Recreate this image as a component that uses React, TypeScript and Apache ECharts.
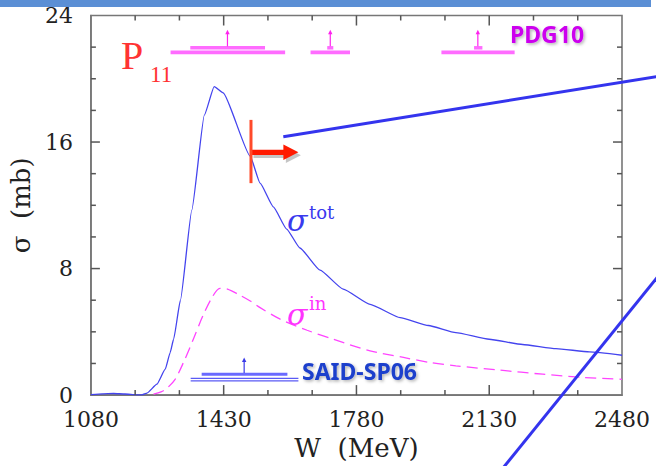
import React, { useEffect, useRef } from "react";
import * as echarts from "echarts";

// Total cross section sigma_tot (mb) versus W (MeV)
const totalW = [1080, 1110, 1140, 1170, 1200, 1215, 1228, 1254, 1276, 1289, 1298, 1316, 1346, 1379, 1405, 1429, 1500, 1526, 1561, 1596, 1631, 1684, 1745, 1816, 1895, 1970, 2042, 2130, 2218, 2306, 2394, 2480];
const totalSigma = [0.03, 0.08, 0.1, 0.07, 0.02, 0.02, 0.13, 0.69, 1.64, 2.69, 3.53, 6.0, 11.7, 17.7, 19.5, 19.1, 15.1, 13.4, 11.9, 10.5, 9.3, 7.9, 6.7, 5.74, 4.9, 4.4, 3.95, 3.53, 3.2, 2.94, 2.73, 2.52];

// Inelastic cross section sigma_in (mb) versus W (MeV)
const inelW = [1245, 1265, 1280, 1302, 1324, 1350, 1375, 1400, 1420, 1440, 1470, 1500, 1526, 1579, 1650, 1719, 1816, 1904, 1974, 2042, 2157, 2271, 2376, 2480];
const inelSigma = [0.06, 0.2, 0.42, 1.0, 2.06, 3.53, 5.0, 6.2, 6.75, 6.7, 6.35, 5.95, 5.53, 4.8, 4.1, 3.53, 2.8, 2.38, 2.06, 1.85, 1.58, 1.32, 1.12, 1.0];

// PDG10 P11 resonances: pole mass, outer range and inner range (MeV)
const pdgMass = [1440, 1711, 2100];
const pdgLow = [1290, 1659, 2004];
const pdgHigh = [1592, 1763, 2197];
const pdgInnerLow = [1342, 1703, 2090];
const pdgInnerHigh = [1539, 1719, 2112];

// SAID-SP06 P11 resonance (MeV)
const saidMass = [1484];
const saidLow = [1343];
const saidHigh = [1627];
const saidInnerLow = [1372];
const saidInnerHigh = [1598];

// Cut marker on the total cross section
const markerW = [1502];
const markerSigmaLow = [13.4];
const markerSigmaHigh = [17.4];
const markerArrowW = [1627];
const markerArrowSigma = [15.35];

// Axis ticks (major) and number of minor subdivisions
const xTicks = [1080, 1430, 1780, 2130, 2480];
const yTicks = [0, 8, 16, 24];
const X_MINOR_SPLIT = 3;
const Y_MINOR_SPLIT = 4;

const PDG_LEVEL = 21.67;
const PDG_ARROW_TOP = 23.1;
const SAID_LEVEL = 0.98;
const SAID_ARROW_TOP = 2.38;

const SERIF = "DejaVu Serif";
const AXIS_COLOR = "#777777";
const TICK_COLOR = "#555555";
const SHADOW = "rgba(90,90,90,0.35)";

// subdivide a list of major tick values into minor tick values
function minorValues(major: number[], split: number) {
  const out: number[] = [];
  for (let i = 0; i < major.length - 1; i++) {
    const step = (major[i + 1] - major[i]) / split;
    for (let k = 1; k < split; k++) out.push(major[i] + k * step);
  }
  return out;
}

// bold source label with a soft drop shadow
function sourceLabel(text: string, x: number, y: number, fill: string) {
  return {
    type: "text",
    x,
    y,
    style: {
      text, fontFamily: "Noto Sans", fontWeight: "bold", fontSize: 23, fill,
      textShadowColor: "rgba(0,0,0,0.3)", textShadowBlur: 3, textShadowOffsetX: 1.5, textShadowOffsetY: 1.5,
    },
    z: 50,
  };
}

export default function App() {
  const ref = useRef<HTMLDivElement>(null);

  useEffect(() => {
    if (!ref.current) return;
    const chart = echarts.init(ref.current, undefined, { renderer: "svg" });

    const xMin = xTicks[0];
    const xMax = xTicks[xTicks.length - 1];
    const yMin = yTicks[0];
    const yMax = yTicks[yTicks.length - 1];
    const xMinor = minorValues(xTicks, X_MINOR_SPLIT);
    const yMinor = minorValues(yTicks, Y_MINOR_SPLIT);
    const xMid = xTicks[1];
    const yMid = yTicks[1];

    const labelStyle = { fontFamily: SERIF, fontSize: 22, color: "#222", formatter: (v: number) => String(v) };

    // inward frame ticks, positioned through the axis scales
    const buildTicks = (coord: (p: number[]) => number[]) => {
      const out: any[] = [];
      const yb = coord([xMid, yMin])[1];
      const yt = coord([xMid, yMax])[1];
      const xl = coord([xMin, yMid])[0];
      const xr = coord([xMax, yMid])[0];
      const seg = (x1: number, y1: number, x2: number, y2: number) => ({
        type: "line",
        shape: { x1, y1, x2, y2 },
        style: { stroke: TICK_COLOR, lineWidth: 1.5 },
      });
      const addX = (v: number, len: number) => {
        const x = coord([v, yMid])[0];
        out.push(seg(x, yb, x, yb - len));
        out.push(seg(x, yt, x, yt + len));
      };
      const addY = (v: number, len: number) => {
        const y = coord([xMid, v])[1];
        out.push(seg(xl, y, xl + len, y));
        out.push(seg(xr, y, xr - len, y));
      };
      xTicks.slice(1, -1).forEach((v) => addX(v, 10));
      xMinor.forEach((v) => addX(v, 5));
      yTicks.slice(1, -1).forEach((v) => addY(v, 9));
      yMinor.forEach((v) => addY(v, 5));
      return out;
    };

    const option: any = {
      animation: false,
      backgroundColor: "#ffffff",
      grid: {
        left: 90.7, right: 34, top: 15.5, bottom: 70,
        show: true, borderColor: AXIS_COLOR, borderWidth: 1.6, backgroundColor: "transparent",
      },
      xAxis: {
        type: "value",
        min: xMin,
        max: xMax,
        interval: xTicks[1] - xTicks[0],
        axisLine: { show: true, onZero: false, lineStyle: { color: AXIS_COLOR, width: 1.6 } },
        axisTick: { show: false },
        splitLine: { show: false },
        axisLabel: { ...labelStyle, margin: 13 },
        name: "W  (MeV)",
        nameLocation: "middle",
        nameGap: 36,
        nameTextStyle: { fontFamily: SERIF, fontSize: 26, color: "#222" },
      },
      yAxis: {
        type: "value",
        min: yMin,
        max: yMax,
        interval: yTicks[1] - yTicks[0],
        axisLine: { show: true, onZero: false, lineStyle: { color: AXIS_COLOR, width: 1.6 } },
        axisTick: { show: false },
        splitLine: { show: false },
        axisLabel: { ...labelStyle, margin: 18 },
        name: "σ  (mb)",
        nameLocation: "middle",
        nameGap: 52,
        nameTextStyle: { fontFamily: SERIF, fontSize: 26, color: "#222" },
      },
      series: [
        {
          type: "line",
          name: "sigma_tot",
          data: totalW.map((w, i) => [w, totalSigma[i]]),
          showSymbol: false,
          symbol: "none",
          smooth: 0.15,
          smoothMonotone: "x",
          lineStyle: { color: "#4444ee", width: 1.3 },
          z: 3,
        },
        {
          type: "line",
          name: "sigma_in",
          data: inelW.map((w, i) => [w, inelSigma[i]]),
          showSymbol: false,
          symbol: "none",
          smooth: 0.3,
          lineStyle: { color: "#ff44ff", width: 1.3, type: [11, 6] },
          z: 3,
        },
        {
          type: "custom",
          name: "ticks",
          data: [[xMid, yMid]],
          z: 5,
          renderItem: (_params: any, api: any) => ({
            type: "group",
            children: buildTicks((p) => api.coord(p)),
          }),
        },
        {
          type: "custom",
          name: "PDG10",
          data: pdgMass.map((m) => [m, PDG_LEVEL]),
          z: 4,
          renderItem: (params: any, api: any) => {
            const i = params.dataIndex;
            const [xm, yb] = api.coord([pdgMass[i], PDG_LEVEL]);
            const xl = api.coord([pdgLow[i], PDG_LEVEL])[0];
            const xh = api.coord([pdgHigh[i], PDG_LEVEL])[0];
            const xil = api.coord([pdgInnerLow[i], PDG_LEVEL])[0];
            const xih = api.coord([pdgInnerHigh[i], PDG_LEVEL])[0];
            const yTop = api.coord([pdgMass[i], PDG_ARROW_TOP])[1];
            return {
              type: "group",
              children: [
                { type: "rect", shape: { x: xl, y: yb - 1.8, width: xh - xl, height: 3.6 }, style: { fill: "#ff6cff" } },
                { type: "rect", shape: { x: xil, y: yb - 6.3, width: xih - xil, height: 3.5 }, style: { fill: "#ff6cff" } },
                { type: "line", shape: { x1: xm, y1: yb - 6, x2: xm, y2: yTop + 4 }, style: { stroke: "#ff22ee", lineWidth: 1.2 } },
                { type: "polygon", shape: { points: [[xm - 2.2, yTop + 4.5], [xm + 2.2, yTop + 4.5], [xm, yTop]] }, style: { fill: "#ff22ee" } },
              ],
            };
          },
        },
        {
          type: "custom",
          name: "SAID-SP06",
          data: saidMass.map((m) => [m, SAID_LEVEL]),
          z: 4,
          renderItem: (params: any, api: any) => {
            const i = params.dataIndex;
            const [xm, yb] = api.coord([saidMass[i], SAID_LEVEL]);
            const xl = api.coord([saidLow[i], SAID_LEVEL])[0];
            const xh = api.coord([saidHigh[i], SAID_LEVEL])[0];
            const xil = api.coord([saidInnerLow[i], SAID_LEVEL])[0];
            const xih = api.coord([saidInnerHigh[i], SAID_LEVEL])[0];
            const yTop = api.coord([saidMass[i], SAID_ARROW_TOP])[1];
            const c = "#5a5af5";
            return {
              type: "group",
              children: [
                { type: "line", shape: { x1: xl, y1: yb - 1.2, x2: xh, y2: yb - 1.2 }, style: { stroke: c, lineWidth: 1.3 } },
                { type: "line", shape: { x1: xl, y1: yb + 1.2, x2: xh, y2: yb + 1.2 }, style: { stroke: c, lineWidth: 1.3 } },
                { type: "rect", shape: { x: xil, y: yb - 6.8, width: xih - xil, height: 3 }, style: { fill: "#6a6aff" } },
                { type: "line", shape: { x1: xm, y1: yb - 6.5, x2: xm, y2: yTop + 4 }, style: { stroke: "#3a3ae8", lineWidth: 1.2 } },
                { type: "polygon", shape: { points: [[xm - 2.2, yTop + 4.5], [xm + 2.2, yTop + 4.5], [xm, yTop]] }, style: { fill: "#3a3ae8" } },
              ],
            };
          },
        },
        {
          type: "custom",
          name: "cut",
          data: markerW.map((w, i) => [w, markerArrowSigma[i]]),
          z: 6,
          renderItem: (params: any, api: any) => {
            const i = params.dataIndex;
            const [x0, yTop] = api.coord([markerW[i], markerSigmaHigh[i]]);
            const yBot = api.coord([markerW[i], markerSigmaLow[i]])[1];
            const [xTip, yArrow] = api.coord([markerArrowW[i], markerArrowSigma[i]]);
            const headLen = 15;
            const shaft = (dx: number, dy: number, fill: string) => ({
              type: "rect",
              shape: { x: x0 + dx, y: yArrow - 2.6 + dy, width: xTip - headLen - x0 + 1, height: 5.2 },
              style: { fill },
            });
            const head = (dx: number, dy: number, fill: string) => ({
              type: "polygon",
              shape: { points: [[xTip - headLen + dx, yArrow - 7.8 + dy], [xTip + dx, yArrow + dy], [xTip - headLen + dx, yArrow + 7.8 + dy]] },
              style: { fill },
            });
            return {
              type: "group",
              children: [
                shaft(2.5, 3, SHADOW),
                head(2.5, 3, SHADOW),
                shaft(0, 0, "#ff1a00"),
                head(0, 0, "#ff1a00"),
                { type: "line", shape: { x1: x0, y1: yTop, x2: x0, y2: yBot }, style: { stroke: "#ff4a2a", lineWidth: 3 } },
              ],
            };
          },
        },
      ],
      graphic: [
        // header band
        { type: "rect", shape: { x: 0, y: 0, width: 651, height: 7 }, style: { fill: "#5b8fd5" }, z: 50 },
        // P11 label
        { type: "text", x: 121, y: 35, style: { text: "P", fontFamily: "Liberation Serif", fontSize: 40, fill: "#ff3333" }, z: 50 },
        { type: "text", x: 150, y: 63, style: { text: "11", fontFamily: "Liberation Serif", fontSize: 23, fill: "#ff3333" }, z: 50 },
        // sigma_tot label
        { type: "text", x: 287, y: 205, style: { text: "σ", fontFamily: SERIF, fontStyle: "italic", fontSize: 30, fill: "#3a3aee" }, z: 50 },
        { type: "text", x: 309, y: 203, style: { text: "tot", fontFamily: SERIF, fontSize: 18, fill: "#3a3aee" }, z: 50 },
        // sigma_in label
        { type: "text", x: 287, y: 299, style: { text: "σ", fontFamily: SERIF, fontStyle: "italic", fontSize: 30, fill: "#ff33ff" }, z: 50 },
        { type: "text", x: 309, y: 294, style: { text: "in", fontFamily: SERIF, fontSize: 18, fill: "#ff33ff" }, z: 50 },
        // source labels
        sourceLabel("PDG10", 510, 22, "#cc00ee"),
        sourceLabel("SAID-SP06", 302, 359, "#1f3fcc"),
        // callout lines
        { type: "line", shape: { x1: 283.3, y1: 136.7, x2: 660, y2: 76 }, style: { stroke: "#3434ee", lineWidth: 3 }, z: 60 },
        { type: "line", shape: { x1: 503, y1: 468, x2: 660, y2: 274 }, style: { stroke: "#3434ee", lineWidth: 3 }, z: 60 },
      ],
    };

    chart.setOption(option);
    return () => chart.dispose();
  }, []);

  return (
    <div
      ref={ref}
      style={{ position: "fixed", left: 0, top: 0, width: 656, height: 466, background: "#fff" }}
    />
  );
}
